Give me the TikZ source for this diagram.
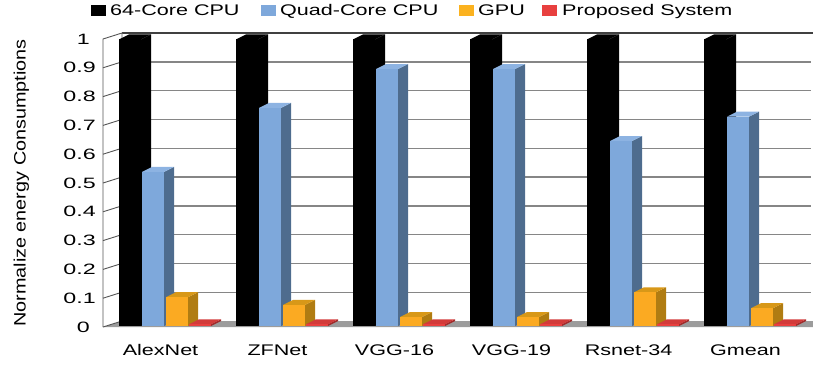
\documentclass[tikz,border=0pt]{standalone}
\usepackage{fontspec}
\setmainfont{Liberation Sans}[FakeStretch=1.4]
\newfontfamily\tickfont{Liberation Sans}[FakeStretch=1.55]
\newfontfamily\ylabelfont{Liberation Sans}[FakeStretch=1.2]

\definecolor{barblue}{HTML}{7EA8DB}
\definecolor{barblueside}{HTML}{4E6C8E}
\definecolor{barbluetop}{HTML}{8DB3E2}
\definecolor{barorange}{HTML}{FBAA22}
\definecolor{barorangeside}{HTML}{B07C12}
\definecolor{barorangetop}{HTML}{D89818}
\definecolor{barred}{HTML}{E8403F}
\definecolor{barredside}{HTML}{A12A2A}
\definecolor{barredtop}{HTML}{D23B3A}
\definecolor{gridgray}{HTML}{868686}
\definecolor{floorgray}{HTML}{9C9C9C}
\definecolor{wallline}{HTML}{555555}

% 3-D column: left x, value, front / side / top colours
\newcommand\colbar[5]{%
  \pgfmathsetmacro\ytop{326-288*#2}%
  \fill[#4] ({#1+22},326) -- ({#1+32},321) -- ({#1+32},{\ytop-5}) -- ({#1+22},\ytop) -- cycle;
  \fill[#5] (#1,\ytop) -- ({#1+10},{\ytop-5}) -- ({#1+32},{\ytop-5}) -- ({#1+22},\ytop) -- cycle;
  \fill[#3] (#1,\ytop) rectangle ({#1+22},326);
}

\tikzset{
  txt/.style={font=\fontsize{15.4}{18}\selectfont, inner sep=0pt},
  ticklab/.style={font=\tickfont\fontsize{15}{18}\selectfont, inner sep=0pt, anchor=east},
  grid line/.style={draw=gridgray, line width=1.4pt},
  wall/.style={draw=wallline, line width=0.9pt},
}

\begin{document}
\begin{tikzpicture}[x=1pt, y=-1pt]
\useasboundingbox (0,0) rectangle (813,364);

% back wall gridlines
\foreach \v in {1,...,9}
  \draw[grid line] (122,{321-28.8*\v}) -- (811,{321-28.8*\v});
\draw[draw=black!75, line width=1.2pt] (122,33) -- (813,33);

% floor
\fill[floorgray] (103,327) -- (122,321) -- (813,321) -- (813,327) -- cycle;

% left side wall with tick diagonals
\fill[white] (103,39) -- (122,33) -- (122,321) -- (103,327) -- cycle;
\draw[wall] (103,327) -- (103,39) -- (122,33) -- (122,321);
\foreach \v in {0,...,9}
  \draw[wall] (103,{327-28.8*\v}) -- (122,{321-28.8*\v});

% tick labels
\foreach \v/\t in {1/0.1,2/0.2,3/0.3,4/0.4,5/0.5,6/0.6,7/0.7,8/0.8,9/0.9}
  \node[ticklab] (tick\v) at (96,{327-28.8*\v}) {\t};
\node[ticklab] (tick0) at (90,327) {0};
\node[ticklab] (tick10) at (90,39) {1};

% axis title
\node[font=\ylabelfont\fontsize{16.5}{18}\selectfont, inner sep=0pt, rotate=90, anchor=base]
  (ytitle) at (25.5,183) {Normalize energy Consumptions};

% columns per benchmark
\foreach \g/\b/\o/\lab [count=\i] in
  {119/0.535/0.100/AlexNet, 236/0.757/0.073/ZFNet, 353/0.892/0.031/VGG-16,
   470/0.892/0.031/VGG-19, 587/0.642/0.117/Rsnet-34, 704/0.727/0.062/Gmean}{
  \colbar{\g}{0.995}{black}{black}{black}
  \colbar{\g+23}{\b}{barblue}{barblueside}{barbluetop}
  \colbar{\g+47}{\o}{barorange}{barorangeside}{barorangetop}
  \colbar{\g+70}{0.006}{barred}{barredside}{barredtop}
  \node[txt, anchor=base] (cat\i) at ({\g+41.5},355) {\lab};
}

% legend
\fill[black] (91,5) rectangle (106,16);
\node[txt, anchor=base west] (leg1) at (110,16) {64-Core CPU};
\fill[barblue] (261,5) rectangle (276,16);
\node[txt, anchor=base west] (leg2) at (280,16) {Quad-Core CPU};
\fill[barorange!90!yellow] (459,5) rectangle (474,16);
\node[txt, anchor=base west] (leg3) at (478,16) {GPU};
\fill[barred] (542,5) rectangle (557,16);
\node[txt, anchor=base west] (leg4) at (562,16) {Proposed System};
\end{tikzpicture}
\end{document}
